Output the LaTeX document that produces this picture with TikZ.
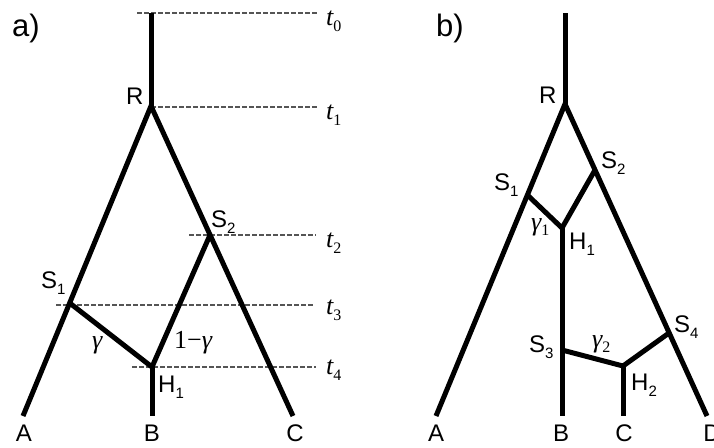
\documentclass[tikz,border=0pt]{standalone}
\usepackage{fontspec}
\setmainfont{Liberation Sans}
\newfontfamily\tnr{Liberation Serif}
\newcommand{\mylab}[2]{#1\raisebox{-6.5pt}{\fontsize{15}{15}\selectfont #2}}
\newcommand{\mytime}[1]{{\tnr\itshape t}\raisebox{-6pt}{\tnr\fontsize{16}{16}\selectfont #1}}
\newcommand{\mygam}[1]{{\tnr\itshape γ}\raisebox{-5pt}{\tnr\fontsize{16}{16}\selectfont #1}}
\begin{document}
\begin{tikzpicture}[x=1pt,y=-1pt,
  branch/.style={line width=5pt, line cap=butt, line join=miter},
  guide/.style={draw={rgb,255:red,85;green,85;blue,85}, line width=1.1pt, dash pattern=on 4.5pt off 2.5pt},
  lab/.style={inner sep=0pt, anchor=base west, font=\fontsize{24}{26}\selectfont},
  leaf/.style={inner sep=0pt, anchor=base, font=\fontsize{24}{26}\selectfont},
  panel/.style={inner sep=0pt, anchor=base west, font=\fontsize{31}{33}\selectfont},
  tlab/.style={inner sep=0pt, anchor=base west, font=\fontsize{26}{28}\selectfont}]
\useasboundingbox (0,0) rectangle (714,447);
% ---------- panel a: guides ----------
\coordinate (g0a) at (137,13);  \coordinate (g0b) at (318,13);
\coordinate (g1a) at (151,107); \coordinate (g1b) at (318,107);
\coordinate (g2a) at (189,235); \coordinate (g2b) at (316,235);
\coordinate (g3a) at (56,305);  \coordinate (g3b) at (314,305);
\coordinate (g4a) at (132,367); \coordinate (g4b) at (316,367);
\draw[guide] (g0a) -- (g0b);
\draw[guide] (g1a) -- (g1b);
\draw[guide] (g2a) -- (g2b);
\draw[guide] (g3a) -- (g3b);
\draw[guide] (g4a) -- (g4b);
% ---------- panel a: tree ----------
\coordinate (aTop) at (151,13);
\coordinate (aR) at (151,106);
\coordinate (aA) at (23,416);
\coordinate (aC) at (293,416);
\coordinate (aS1) at (69.7,303);
\coordinate (aS2) at (210,235);
\coordinate (aH1) at (152,367);
\coordinate (aB) at (152,416);
\draw[branch] (aTop) -- (aR);
\draw[branch] (aA) -- (aR) -- (aC);
\draw[branch] (aS1) -- (aH1) -- (aS2);
\draw[branch] (aH1) -- (aB);
% ---------- panel a: labels ----------
\node[panel] (pa) at (12,36) {a)};
\node[lab] (laR) at (126,104) {R};
\node[lab] (laS2) at (211,227) {\mylab{S}{2}};
\node[lab] (laS1) at (41,288) {\mylab{S}{1}};
\node[lab] (laH1) at (158,392) {\mylab{H}{1}};
\node[tlab] (lag) at (92,348) {\tnr\itshape γ};
\node[tlab] (lag2) at (174,348) {\tnr 1−\itshape γ};
\node[leaf] (laA) at (24,441) {A};
\node[leaf] (laB) at (152,441) {B};
\node[leaf] (laC) at (295,441) {C};
\node[tlab] (t0) at (326,25) {\mytime{0}};
\node[tlab] (t1) at (326,119) {\mytime{1}};
\node[tlab] (t2) at (326,247) {\mytime{2}};
\node[tlab] (t3) at (326,314) {\mytime{3}};
\node[tlab] (t4) at (326,374) {\mytime{4}};
% ---------- panel b: tree ----------
\coordinate (bTop) at (565,13);
\coordinate (bR) at (565,104);
\coordinate (bA) at (436,416);
\coordinate (bD) at (707,416);
\coordinate (bS1) at (527.4,195);
\coordinate (bS2) at (595,170);
\coordinate (bH1) at (562,228);
\coordinate (bS3) at (562,350);
\coordinate (bB) at (562,416);
\coordinate (bH2) at (623,366);
\coordinate (bS4) at (669,333);
\coordinate (bC) at (623,416);
\draw[branch] (bTop) -- (bR);
\draw[branch] (bA) -- (bR) -- (bD);
\draw[branch] (bS1) -- (bH1) -- (bS2);
\draw[branch] (bH1) -- (bB);
\draw[branch] (bS3) -- (bH2) -- (bS4);
\draw[branch] (bH2) -- (bC);
% ---------- panel b: labels ----------
\node[panel] (pb) at (436,36) {b)};
\node[lab] (lbR) at (539,103) {R};
\node[lab] (lbS1) at (494,190) {\mylab{S}{1}};
\node[lab] (lbS2) at (601,168) {\mylab{S}{2}};
\node[tlab] (lbg1) at (531,230) {\mygam{1}};
\node[lab] (lbH1) at (569,249) {\mylab{H}{1}};
\node[lab] (lbS3) at (529,352) {\mylab{S}{3}};
\node[tlab] (lbg2) at (592,347) {\mygam{2}};
\node[lab] (lbS4) at (674,332) {\mylab{S}{4}};
\node[lab] (lbH2) at (631,390) {\mylab{H}{2}};
\node[leaf] (lbA) at (436,441) {A};
\node[leaf] (lbB) at (561,441) {B};
\node[leaf] (lbC) at (624,441) {C};
\node[leaf] (lbD) at (712,441) {D};
\end{tikzpicture}
\end{document}
